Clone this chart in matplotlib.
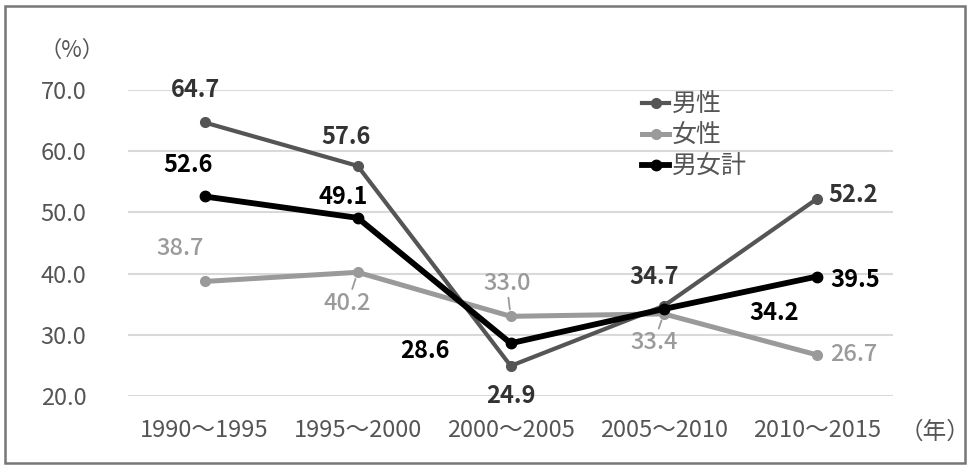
import matplotlib.pyplot as plt
from matplotlib.patches import Rectangle

plt.rcParams['font.family'] = ['Noto Sans CJK JP', 'DejaVu Sans']

periods = ['1990～1995', '1995～2000', '2000～2005', '2005～2010', '2010～2015']
male = [64.7, 57.6, 24.9, 34.7, 52.2]
female = [38.7, 40.2, 33.0, 33.4, 26.7]
total = [52.6, 49.1, 28.6, 34.2, 39.5]

# label offsets in pixels from each point
male_off = [(-9, 32), (-12, 29), (0, -30), (-10, 29), (36, 4)]
female_off = [(-24, 33), (-10, -31), (-4, 33), (-10, -29), (37, 0)]
total_off = [(-16, 31), (-14, 21), (-86, -8), (110, -4), (38, -3)]

c_male = '#555555'
c_female = '#9a9a9a'
c_total = '#000000'

fig = plt.figure(figsize=(9.7, 4.69), dpi=100)
ax = fig.add_axes([0.132, 0.156, 0.789, 0.652])

x = list(range(len(periods)))
ax.plot(x, male, color=c_male, lw=3, marker='o', ms=7, label='男性', zorder=3)
ax.plot(x, female, color=c_female, lw=3.6, marker='o', ms=7, label='女性', zorder=2)
ax.plot(x, total, color=c_total, lw=4.2, marker='o', ms=7.5, label='男女計', zorder=4)

for i in x:
    ax.annotate(f'{male[i]:.1f}', (i, male[i]), xytext=male_off[i], textcoords='offset pixels',
                ha='center', va='center', fontsize=17, fontweight='bold', color='#333333')
    leader = dict(arrowstyle='-', color=c_female, lw=1.3, shrinkA=0, shrinkB=5) if i in (1, 2, 3) else None
    ax.annotate(f'{female[i]:.1f}', (i, female[i]), xytext=female_off[i], textcoords='offset pixels',
                ha='center', va='center', fontsize=17, fontweight='medium', color=c_female,
                arrowprops=leader)
    ax.annotate(f'{total[i]:.1f}', (i, total[i]), xytext=total_off[i], textcoords='offset pixels',
                ha='center', va='center', fontsize=17, fontweight='bold', color=c_total)

ax.set_xlim(-0.5, 4.5)
ax.set_ylim(20, 70)
ax.set_yticks([20, 30, 40, 50, 60, 70])
ax.set_yticklabels([f'{v:.1f}' for v in [20, 30, 40, 50, 60, 70]])
ax.set_xticks(x)
ax.set_xticklabels(periods)
ax.tick_params(length=0, labelsize=17, colors='#555555')
ax.tick_params(axis='y', pad=30)
ax.tick_params(axis='x', pad=17)
ax.grid(axis='y', color='#d9d9d9', lw=1.5)
ax.set_axisbelow(True)
for s in ax.spines.values():
    s.set_visible(False)

fig.text(72 / 970, 1 - 50 / 469, '（%）', ha='center', va='center', fontsize=16, color='#555555')
fig.text(935 / 970, 1 - 432 / 469, '（年）', ha='center', va='center', fontsize=17, color='#555555')

leg = ax.legend(loc='upper left', bbox_to_anchor=(632 / 970, 1 - 82 / 469), bbox_transform=fig.transFigure,
                frameon=False, fontsize=18, handlelength=1.1, handletextpad=0.1, labelspacing=0.2,
                numpoints=1, borderaxespad=0)
for t in leg.get_texts():
    t.set_color('#555555')

fig.patches.append(Rectangle((5 / 970, 6 / 469), 960 / 970, 457 / 469, transform=fig.transFigure,
                             fill=False, edgecolor='#777777', lw=1.8))

fig.savefig('out.png', dpi=100)
